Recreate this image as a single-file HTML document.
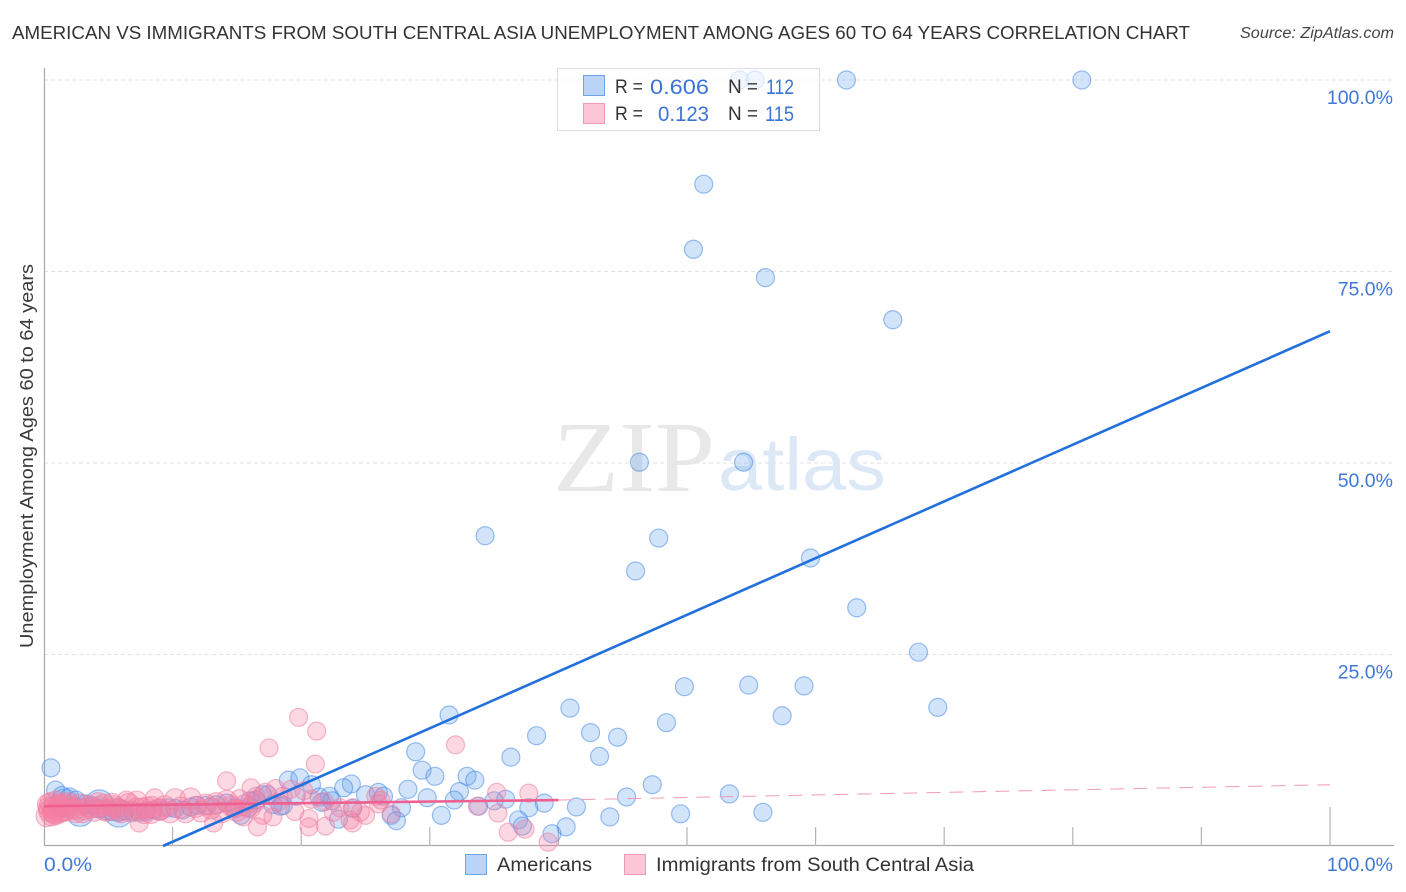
<!DOCTYPE html>
<html>
<head>
<meta charset="utf-8">
<title>Americans vs Immigrants from South Central Asia correlation chart</title>
<style>
html,body{margin:0;padding:0;background:#fff;width:1406px;height:892px;overflow:hidden}
svg{display:block;font-family:"Liberation Sans",Arial,sans-serif}
</style>
</head>
<body>
<svg id="chart" width="1406" height="892" viewBox="0 0 1406 892" xmlns="http://www.w3.org/2000/svg">
  <rect x="0" y="0" width="1406" height="892" fill="#ffffff"/>
  <text x="12" y="39" font-size="18.5" fill="#333333" textLength="1178" lengthAdjust="spacingAndGlyphs">AMERICAN VS IMMIGRANTS FROM SOUTH CENTRAL ASIA UNEMPLOYMENT AMONG AGES 60 TO 64 YEARS CORRELATION CHART</text>
  <text x="1394" y="38" font-size="15.5" font-style="italic" fill="#444444" text-anchor="end" textLength="154" lengthAdjust="spacingAndGlyphs">Source: ZipAtlas.com</text>
  <g id="grid"></g>
  <g>
    <text x="553" y="491" font-size="101" font-family="'Liberation Serif',serif" fill="#e8e8e8" textLength="162" lengthAdjust="spacingAndGlyphs">ZIP</text>
    <text x="718" y="490" font-size="74" fill="#dde8f7" textLength="168" lengthAdjust="spacingAndGlyphs">atlas</text>
  </g>
  <g id="axes"></g>
  <g id="american-points"></g>
  <g id="immigrant-points"></g>
  <g id="trends"></g>
  <text transform="translate(33,456) rotate(-90)" font-size="18.5" fill="#3a3a3a" text-anchor="middle" textLength="384" lengthAdjust="spacingAndGlyphs">Unemployment Among Ages 60 to 64 years</text>
  <g id="tick-labels"></g>

  <g>
    <rect x="557.5" y="68.5" width="262" height="62" fill="#ffffff" fill-opacity="0.68" stroke="#dddddd"/>
    <rect x="583.5" y="75.5" width="21" height="20" fill="#b9d4f7" stroke="#6ea3e8"/>
    <rect x="583.5" y="103.5" width="21" height="20" fill="#fcc6d7" stroke="#f29ab5"/>
    <g font-size="19" fill="#333333">
      <text x="615" y="93" textLength="28" lengthAdjust="spacingAndGlyphs">R =</text>
      <text x="615" y="120" textLength="28" lengthAdjust="spacingAndGlyphs">R =</text>
      <text x="728" y="93" textLength="30" lengthAdjust="spacingAndGlyphs">N =</text>
      <text x="728" y="120" textLength="30" lengthAdjust="spacingAndGlyphs">N =</text>
    </g>
    <g font-size="21" fill="#3b74d6">
      <text x="650" y="94" textLength="59" lengthAdjust="spacingAndGlyphs">0.606</text>
      <text x="658" y="121" textLength="51" lengthAdjust="spacingAndGlyphs">0.123</text>
      <text x="766" y="94" textLength="28" lengthAdjust="spacingAndGlyphs">112</text>
      <text x="765" y="121" textLength="29" lengthAdjust="spacingAndGlyphs">115</text>
    </g>
  </g>

  <g>
    <rect x="465.5" y="854.5" width="21" height="20" fill="#b9d4f7" stroke="#6ea3e8"/>
    <text x="497" y="871" font-size="19" fill="#333333" textLength="95" lengthAdjust="spacingAndGlyphs">Americans</text>
    <rect x="624.5" y="854.5" width="21" height="20" fill="#fcc6d7" stroke="#f29ab5"/>
    <text x="656" y="871" font-size="19" fill="#333333" textLength="318" lengthAdjust="spacingAndGlyphs">Immigrants from South Central Asia</text>
  </g>
</svg>
<script>
const yGridValues = [100, 75, 50, 25];
const yTickLabels = ["100.0%", "75.0%", "50.0%", "25.0%"];
const xTickValues = [10, 20, 30, 40, 50, 60, 70, 80, 90, 100];
const xTickLabels = ["0.0%", "100.0%"];

const americanX = [0.54,62.4,80.7,54.1,55.3,51.3,50.5,56.1,66.0,46.3,54.4,34.3,47.8,46.0,59.6,63.2,68.0,49.8,54.8,59.1,69.5,57.4,40.9,31.5,48.4,38.3,42.5,44.6,28.9,36.3,43.2,29.4,30.4,32.9,33.5,47.3,28.3,53.3,45.3,23.9,23.3,32.3,29.8,31.9,35.9,25.0,26.0,26.4,35.0,33.8,38.9,37.7,41.4,27.8,30.9,27.0,27.4,44.0,49.5,55.9,36.9,37.2,40.6,39.5,22.9,19.0,19.9,20.8,22.2,21.6,19.6,18.6,17.4,16.5,15.9,15.3,21.4,22.4,24.0,0.9,1.4,2.0,2.5,3.2,3.8,4.3,4.8,5.3,5.8,6.3,6.9,7.4,7.9,8.5,9.1,9.7,10.2,10.8,11.4,11.9,12.6,13.4,14.2,14.8,16.0,17.0,17.8,18.4];
const americanY = [10.2,100,100,100,100,86.4,77.9,74.2,68.7,50.1,50.1,40.5,40.2,35.9,37.6,31.1,25.3,20.8,21.0,20.9,18.1,17.0,18.0,17.1,16.1,14.4,14.8,14.2,12.3,11.6,11.7,9.9,9.1,9.1,8.6,8.0,7.4,6.8,6.4,8.1,7.6,7.1,6.3,6.0,6.1,6.7,7.0,6.5,5.9,5.2,5.6,5.0,5.1,5.0,4.0,4.0,3.3,3.8,4.2,4.4,3.4,2.6,2.5,1.6,3.5,8.6,8.9,8.0,6.5,5.7,6.5,5.3,6.7,6.0,5.0,4.0,6.4,5.9,4.9,7.3,6.6,6.4,6.0,5.5,5.2,4.9,4.6,4.5,4.4,4.6,4.5,4.4,4.5,4.7,4.6,5.0,4.9,4.7,5.1,5.3,5.3,5.4,5.6,5.0,5.9,6.7,5.4,5.2];
const americanLargeX = [1.6, 2.8, 4.3, 5.8];
const americanLargeY = [5.6, 4.4, 5.5, 4.3];

const immigrantX = [19.8,21.2,17.5,21.1,32.0,14.2,16.1,19.2,18.6,18.2,37.7,35.2,16.6,7.4,13.2,20.6,21.9,24.0,20.6,23.8,36.1,37.4,39.2,35.3,33.7,25.8,25.0,24.0,26.2,20.2,21.8,23.0,27.0,19.5,17.8,17.0,15.5,14.8,15.2,16.5,17.2,18.0,20.8,22.5,24.6,26.0,6.4,8.6];
const immigrantY = [16.8,15.0,12.8,10.7,13.2,8.5,7.6,7.4,6.5,5.7,6.9,7.0,2.5,3.0,3.0,3.6,2.6,3.0,2.5,3.4,1.8,2.2,0.5,4.3,5.2,6.5,4.0,5.0,6.0,7.2,5.8,5.0,4.2,4.5,3.8,4.0,3.8,4.8,6.2,6.5,7.0,7.5,6.1,4.4,4.4,5.5,6.0,6.3];
const immigrantLargeX = [0.2,0.3,0.4,0.5,0.6,0.7,0.8,0.9,1.0,1.1,1.3,1.5,1.7,1.9,2.2,2.5,2.8,3.1,3.5,3.9,4.3,4.7,0.4,0.8,1.2,1.6,2.0,2.4,3.0,3.6,4.2,4.8,5.4,6.0,6.6,7.2,7.8,8.4,9.0,5.0,5.3,5.6,6.0,6.8,7.2,7.6,8.0,8.3,9.0,9.4,9.8,10.2,10.6,11.0,11.4,11.8,12.2,12.6,13.0,13.4,13.8,14.2,14.6,15.0,15.6,16.0,16.4];
const immigrantLargeY = [3.9,5.4,4.6,5.6,4.0,5.0,4.4,5.8,4.2,5.2,4.5,5.5,4.7,5.6,5.0,4.4,5.4,4.8,5.2,4.6,5.1,5.4,5.0,4.2,5.4,4.6,5.2,4.8,4.4,5.0,5.6,4.6,5.2,4.4,5.5,4.9,4.3,5.1,4.7,4.7,5.5,4.9,4.7,4.5,5.8,4.9,5.0,4.3,4.8,5.2,4.4,6.1,5.0,4.4,6.2,5.1,4.5,5.4,4.9,5.6,4.4,5.9,5.2,4.6,5.3,5.0,5.8];

const americanTrendX = [9.25, 100];
const americanTrendY = [0, 67.2];
const immigrantSolidTrendX = [0, 40];
const immigrantSolidTrendY = [5.2, 6.0];
const immigrantDashedTrendX = [40, 100];
const immigrantDashedTrendY = [6.0, 8.0];

function xScale(v){ return 44 + v * 12.86; }
function yScale(v){ return 846 - v * 7.66; }
const NS = "http://www.w3.org/2000/svg";
function make(parent, tag, attrs){
  const el = document.createElementNS(NS, tag);
  for (const k in attrs) el.setAttribute(k, attrs[k]);
  parent.appendChild(el);
  return el;
}

const grid = document.getElementById("grid");
yGridValues.forEach(function(v){
  const line = make(grid, "line", {x1:44, x2:1394, y1:yScale(v), y2:yScale(v), stroke:"#e2e2e2", "stroke-width":1, "stroke-dasharray":"4 3"});
  
  
});

const axes = document.getElementById("axes");
const yAxis = make(axes, "line", {x1:44.5, x2:44.5, y1:68, y2:846, stroke:"#aaaaaa", "stroke-width":1.2});


const xAxis = make(axes, "line", {x1:44, x2:1394, y1:845.5, y2:845.5, stroke:"#aaaaaa", "stroke-width":1.2});


xTickValues.forEach(function(v){
  const top = v === 100 ? 807 : 827;
  const tick = make(axes, "line", {x1:xScale(v), x2:xScale(v), y1:top, y2:846, stroke:"#b4b4b4", "stroke-width":1.2});
  
  
});

function drawPoints(group, xs, ys, r, fill, stroke, name){
  xs.forEach(function(x, i){
    const c = make(group, "circle", {cx:xScale(x), cy:yScale(ys[i]), r:r, fill:fill, stroke:stroke, "stroke-width":1.2});
    
    
  });
}
const blueFill = "rgba(105,165,238,0.3)";
const blueStroke = "rgba(60,130,225,0.5)";
const pinkFill = "rgba(245,125,162,0.3)";
const pinkStroke = "rgba(240,125,160,0.55)";
const americanGroup = document.getElementById("american-points");
const immigrantGroup = document.getElementById("immigrant-points");
drawPoints(americanGroup, americanLargeX, americanLargeY, 14, blueFill, blueStroke, "american-point-large");
drawPoints(americanGroup, americanX, americanY, 9, blueFill, blueStroke, "american-point");
drawPoints(immigrantGroup, immigrantLargeX, immigrantLargeY, 10.5, pinkFill, pinkStroke, "immigrant-point-large");
drawPoints(immigrantGroup, immigrantX, immigrantY, 9, pinkFill, pinkStroke, "immigrant-point");

const trends = document.getElementById("trends");
const pinkDashed = make(trends, "line", {x1:xScale(immigrantDashedTrendX[0]), y1:yScale(immigrantDashedTrendY[0]), x2:xScale(immigrantDashedTrendX[1]), y2:yScale(immigrantDashedTrendY[1]), stroke:"#f09ab5", "stroke-width":1, "stroke-dasharray":"14 9"});


const pinkSolid = make(trends, "line", {x1:xScale(immigrantSolidTrendX[0]), y1:yScale(immigrantSolidTrendY[0]), x2:xScale(immigrantSolidTrendX[1]), y2:yScale(immigrantSolidTrendY[1]), stroke:"#ef5f8f", "stroke-width":2.6});


const blueTrend = make(trends, "line", {x1:xScale(americanTrendX[0]), y1:yScale(americanTrendY[0]), x2:xScale(americanTrendX[1]), y2:yScale(americanTrendY[1]), stroke:"#2170dc", "stroke-width":2.6});



const labels = document.getElementById("tick-labels");
yTickLabels.forEach(function(t, i){
  const el = make(labels, "text", {x:1393, y:yScale(yGridValues[i]) + 24, "text-anchor":"end", "font-size":19.5, fill:"#3f78d8"});
  el.textContent = t;
  
  
});
const xLabelStart = make(labels, "text", {x:44, y:871, "font-size":19.5, fill:"#3f78d8", textLength:48, lengthAdjust:"spacingAndGlyphs"});
xLabelStart.textContent = xTickLabels[0];


const xLabelEnd = make(labels, "text", {x:1393, y:871, "text-anchor":"end", "font-size":19.5, fill:"#3f78d8"});
xLabelEnd.textContent = xTickLabels[1];


</script>
</body>
</html>
